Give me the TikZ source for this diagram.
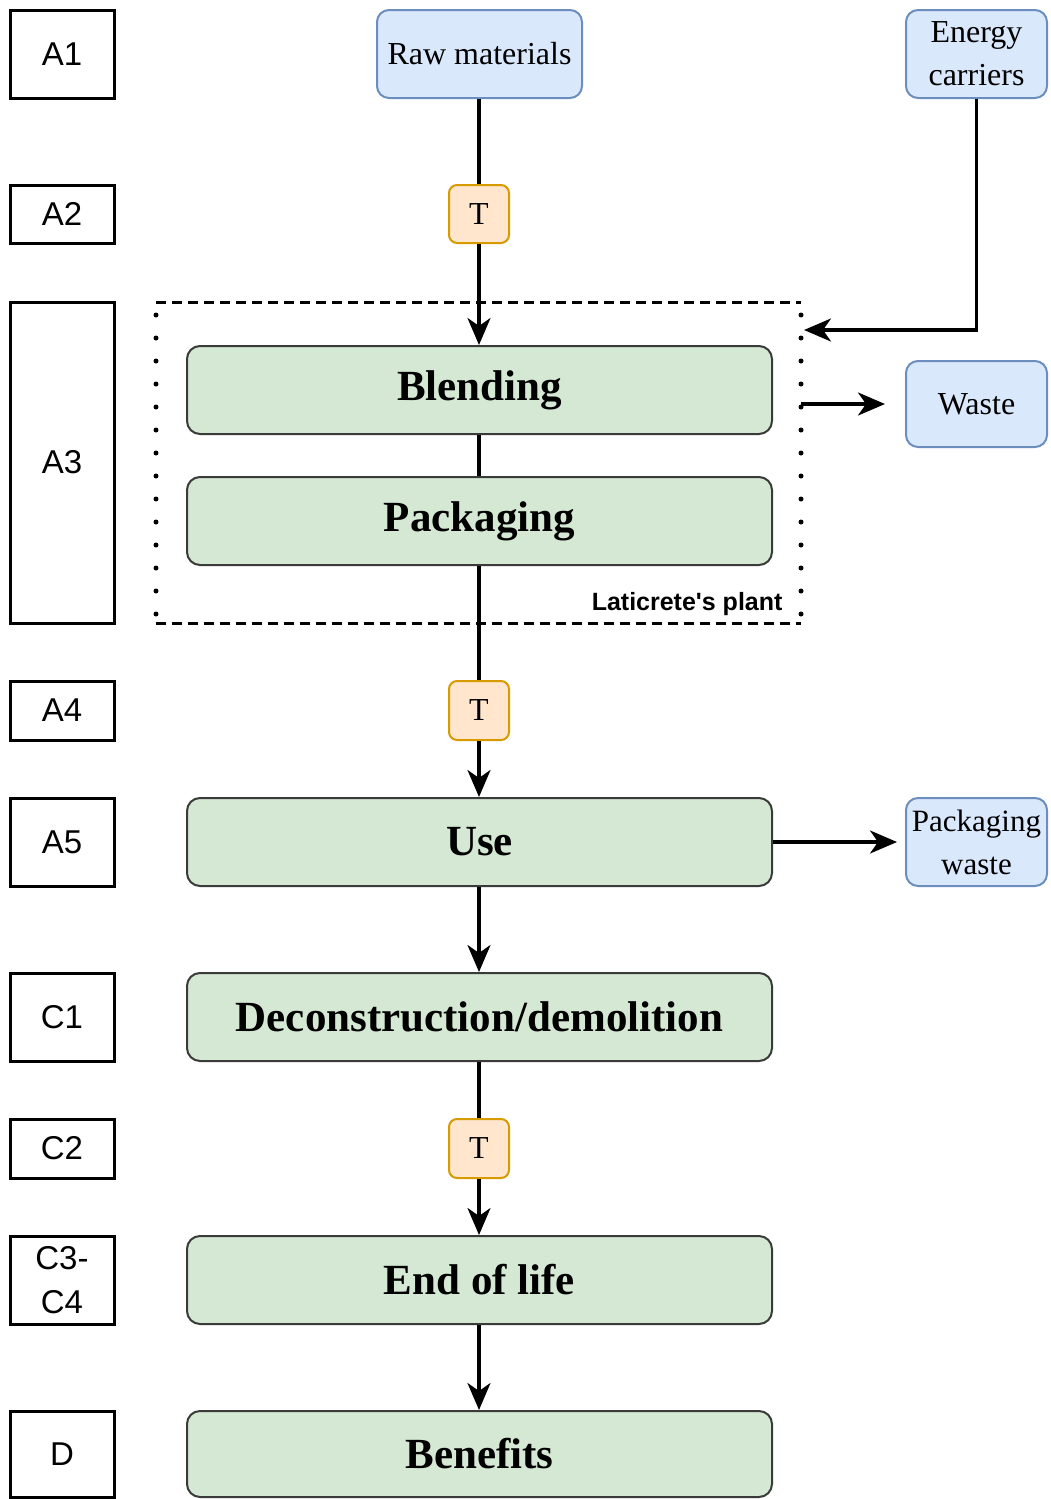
\documentclass[tikz,border=0pt]{standalone}
\usepackage{fontspec}
\setmainfont{Liberation Serif}
\setsansfont{Liberation Sans}
\usetikzlibrary{arrows.meta}
\definecolor{gfill}{HTML}{D5E8D4}
\definecolor{gline}{HTML}{3A3A3A}
\definecolor{bfill}{HTML}{DAE8FC}
\definecolor{bline}{HTML}{6C8EBF}
\definecolor{ofill}{HTML}{FFE6CC}
\definecolor{oline}{HTML}{D79B00}
\tikzset{
  stage/.style={draw=black, line width=3pt, rectangle, inner sep=0pt, minimum width=104pt,
    font=\sffamily\fontsize{33}{44}\selectfont, align=center},
  proc/.style={draw=gline, fill=gfill, line width=2pt, rounded corners=13pt, inner sep=0pt,
    minimum width=585pt, minimum height=88pt, font=\bfseries\fontsize{43}{48}\selectfont},
  flow/.style={draw=bline, fill=bfill, line width=2pt, rounded corners=12pt, inner sep=0pt,
    minimum height=88pt, font=\fontsize{32}{43}\selectfont, align=center},
  tbox/.style={draw=oline, fill=ofill, line width=2pt, rounded corners=8pt, inner sep=0pt,
    minimum width=60pt, minimum height=58pt, font=\fontsize{32}{38}\selectfont},
  conn/.style={draw=black, line width=3.2pt},
  arr/.style={conn, -{Stealth[length=27pt,width=23pt,inset=8pt]}},
}
\begin{document}
\begin{tikzpicture}[x=1pt,y=-1pt]
\useasboundingbox (0,0) rectangle (1050,1499);
% stage labels
\node[stage, minimum height=88pt] (sA1) at (62,54) {A1};
\node[stage, minimum height=58pt] (sA2) at (62,214) {A2};
\node[stage, minimum height=321pt] (sA3) at (62,462.5) {A3};
\node[stage, minimum height=59pt] (sA4) at (62,710.5) {A4};
\node[stage, minimum height=88pt] (sA5) at (62,842) {A5};
\node[stage, minimum height=88pt] (sC1) at (62,1017) {C1};
\node[stage, minimum height=59pt] (sC2) at (62,1148.5) {C2};
\node[stage, minimum height=88pt] (sC34) at (62,1280) {C3-\\C4};
\node[stage, minimum height=86pt] (sD) at (62,1454) {D};
% plant boundary
\coordinate (pNW) at (156,302);
\coordinate (pNE) at (801,302);
\coordinate (pSW) at (156,623);
\coordinate (pSE) at (801,623);
\draw[line width=3pt, dash pattern=on 10pt off 6pt] (pNW) -- (pNE);
\draw[line width=3pt, dash pattern=on 10pt off 6pt] (pSW) -- (pSE);
\draw[line width=5pt, line cap=round, dash pattern=on 0pt off 23pt] (156,315) -- (pSW);
\draw[line width=5pt, line cap=round, dash pattern=on 0pt off 23pt] (801,315) -- (pSE);
\node[font=\sffamily\bfseries\fontsize{25}{30}\selectfont, anchor=base east] (plant) at (786,610) {Laticrete\textquotesingle s plant};
% flows
\node[flow, minimum width=205pt] (raw) at (479.5,54) {Raw materials};
\node[flow, minimum width=141pt] (energy) at (976.5,54) {Energy\\carriers};
\node[flow, minimum width=141pt, minimum height=86pt] (waste) at (976.5,404) {Waste};
\node[flow, minimum width=141pt, font=\fontsize{31}{43}\selectfont] (pwaste) at (976.5,842) {Packaging\\waste};
% transport
\node[tbox] (t1) at (479,214) {T};
\node[tbox, minimum height=59pt] (t2) at (479,710.5) {T};
\node[tbox, minimum height=59pt] (t3) at (479,1148.5) {T};
% processes
\node[proc] (blend) at (479.5,390) {Blending};
\node[proc] (pack) at (479.5,521) {Packaging};
\node[proc] (use) at (479.5,842) {Use};
\node[proc] (decon) at (479.5,1017) {Deconstruction/demolition};
\node[proc] (eol) at (479.5,1280) {End of life};
\node[proc, minimum height=86pt] (ben) at (479.5,1454) {Benefits};
% connectors
\draw[conn] (raw.south -| t1) -- (t1.north);
\draw[arr] (t1.south) -- (t1.south |- blend.north);
\draw[conn] (blend.south -| t1) -- (pack.north -| t1);
\draw[conn] (pack.south -| t1) -- (t2.north);
\draw[arr] (t2.south) -- (t2.south |- use.north);
\draw[arr] (use.south -| t2) -- (decon.north -| t2);
\draw[conn] (decon.south -| t3) -- (t3.north);
\draw[arr] (t3.south) -- (t3.south |- eol.north);
\draw[arr] (eol.south -| t3) -- (ben.north -| t3);
\coordinate (eIn) at (804,330);
\draw[arr] (energy.south) -- (energy.south |- eIn) -- (eIn);
\coordinate (wOut) at (801,404);
\draw[arr, shorten >=20pt] (wOut) -- (waste.west);
\draw[arr, shorten >=8pt] (use.east) -- (pwaste.west);
\end{tikzpicture}
\end{document}
